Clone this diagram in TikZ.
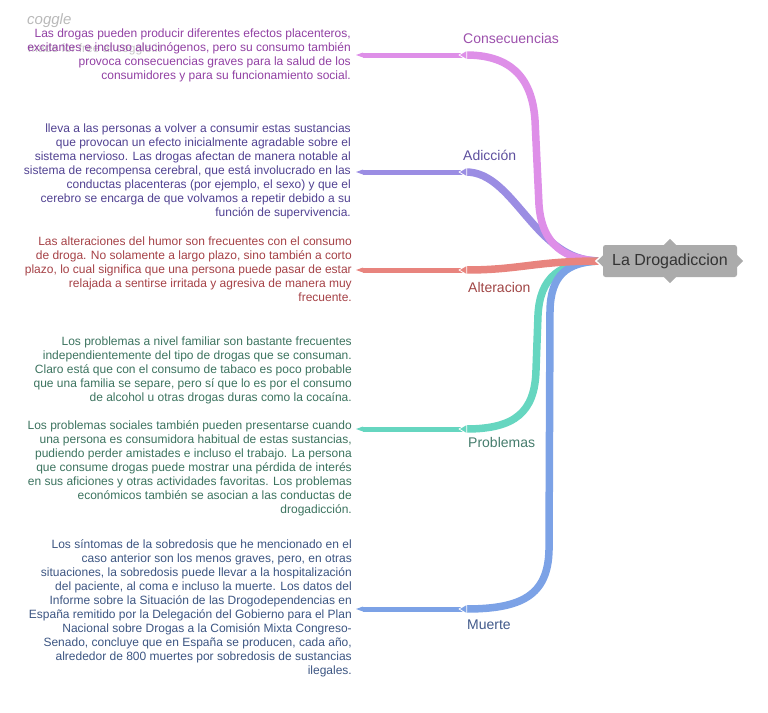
\documentclass[tikz,border=0pt]{standalone}
\usepackage{fontspec}
\setmainfont{Liberation Sans}
\definecolor{c1l}{HTML}{DE8FE8}\definecolor{c1t}{HTML}{9140A3}\definecolor{c1b}{HTML}{9C50AC}
\definecolor{c2l}{HTML}{9B8DE3}\definecolor{c2t}{HTML}{504191}\definecolor{c2b}{HTML}{5D4F9E}
\definecolor{c3l}{HTML}{E8847E}\definecolor{c3t}{HTML}{A54146}\definecolor{c3b}{HTML}{A04545}
\definecolor{c4l}{HTML}{66D6C0}\definecolor{c4t}{HTML}{3C735F}\definecolor{c4b}{HTML}{457C6C}
\definecolor{c5l}{HTML}{7CA2E6}\definecolor{c5t}{HTML}{3C5582}\definecolor{c5b}{HTML}{41598A}
\definecolor{hubgray}{HTML}{ABABAB}
\begin{document}
\begin{tikzpicture}[x=1pt,y=-1pt,
  body/.style={font=\fontsize{12}{14}\selectfont, align=right, anchor=east, inner sep=0pt},
  lbl/.style={font=\fontsize{14}{16}\selectfont, anchor=west, inner sep=0pt},
  bough/.style={line width=7.5pt, line cap=butt},
  twig/.style={line width=5pt, line cap=butt}]
\useasboundingbox (0,0) rectangle (768,712);

% watermark
\node[anchor=west, inner sep=0pt, text=gray!55, font=\fontsize{15}{16}\selectfont\itshape] (wm1) at (27,21) {coggle};
\node[anchor=west, inner sep=0pt, text=gray!45, font=\fontsize{12}{14}\selectfont] (wm2) at (28,49) {made for free at coggle.it};

% coordinates
\coordinate (hub) at (600,261);
\coordinate (e1) at (466,55);  \coordinate (t1) at (356,55);
\coordinate (e2) at (466,172); \coordinate (t2) at (356,172);
\coordinate (e3) at (466,270); \coordinate (t3) at (356,270);
\coordinate (e4) at (466,429); \coordinate (t4) at (356,429);
\coordinate (e5) at (466,609); \coordinate (t5) at (356,609);

% curves
\draw[bough, c2l] (e2) .. controls (515,172) and (535,262) .. (hub);
\draw[bough, c1l] (e1) .. controls (508,55) and (532,75) .. (535,120) -- (539,205) .. controls (542,245) and (565,260) .. (hub);
\draw[bough, c4l] (e4) .. controls (515,429) and (535,412) .. (536,370) -- (538,315) .. controls (540,277) and (560,262) .. (hub);
\draw[bough, c5l] (e5) .. controls (522,609) and (548,595) .. (549,550) -- (550,310) .. controls (551,276) and (566,262) .. (hub);
\draw[bough, c3l] (e3) .. controls (520,270) and (535,261) .. (hub);

% twigs with tips
\foreach \i in {1,...,5}{
  \draw[twig, c\i l] ([xshift=6.5pt]t\i) -- ([xshift=-3pt]e\i);
  \fill[c\i l] (t\i) -- ++(7,-2.5) -- ++(0,5) -- cycle;
  \fill[white] (e\i) ++(1.2,-5.6) -- ++(-8.8,5.6) -- ++(8.8,5.6) -- cycle;
  \fill[c\i l] (e\i) ++(0.4,-3.75) -- ++(-6.4,3.75) -- ++(6.4,3.75) -- cycle;
}

% central node
\fill[white] (604.5,252.3) -- (594.8,261) -- (604.5,269.7) -- cycle;
\fill[hubgray, rounded corners=2.5pt] (603,245) rectangle (737,277);
\fill[hubgray] (604,254.5) -- (597.2,261) -- (604,267.5) -- cycle;
\fill[hubgray] (663.5,245.5) -- (670,238.8) -- (676.5,245.5) -- cycle;
\fill[hubgray] (663.5,276.5) -- (670,283.2) -- (676.5,276.5) -- cycle;
\fill[hubgray] (736.5,254.5) -- (743.2,261) -- (736.5,267.5) -- cycle;
\node[inner sep=0pt, text=black!80, font=\fontsize{16}{18}\selectfont] (center) at (670,261) {La Drogadiccion};

% labels
\node[lbl, text=c1b] (lab1) at (463,38) {Consecuencias};
\node[lbl, text=c2b] (lab2) at (463,155) {Adicción};
\node[lbl, text=c3b] (lab3) at (468,287) {Alteracion};
\node[lbl, text=c4b] (lab4) at (468,442) {Problemas};
\node[lbl, text=c5b] (lab5) at (467,625) {Muerte};

% texts
\node[body, text=c1t] (txt1) at (351,55) {Las drogas pueden producir diferentes efectos placenteros,\\ excitantes e incluso alucinógenos, pero su consumo también\\ provoca consecuencias graves para la salud de los\\ consumidores y para su funcionamiento social.};
\node[body, text=c2t] (txt2) at (351,171) {lleva a las personas a volver a consumir estas sustancias\\ que provocan un efecto inicialmente agradable sobre el\\ sistema nervioso. Las drogas afectan de manera notable al\\ sistema de recompensa cerebral, que está involucrado en las\\ conductas placenteras (por ejemplo, el sexo) y que el\\ cerebro se encarga de que volvamos a repetir debido a su\\ función de supervivencia.};
\node[body, text=c3t] (txt3) at (352,269) {Las alteraciones del humor son frecuentes con el consumo\\ de droga. No solamente a largo plazo, sino también a corto\\ plazo, lo cual significa que una persona puede pasar de estar\\ relajada a sentirse irritada y agresiva de manera muy\\ frecuente.};
\node[body, text=c4t] (txt4) at (352,426) {Los problemas a nivel familiar son bastante frecuentes\\ independientemente del tipo de drogas que se consuman.\\ Claro está que con el consumo de tabaco es poco probable\\ que una familia se separe, pero sí que lo es por el consumo\\ de alcohol u otras drogas duras como la cocaína.\\[14pt] Los problemas sociales también pueden presentarse cuando\\ una persona es consumidora habitual de estas sustancias,\\ pudiendo perder amistades e incluso el trabajo. La persona\\ que consume drogas puede mostrar una pérdida de interés\\ en sus aficiones y otras actividades favoritas. Los problemas\\ económicos también se asocian a las conductas de\\ drogadicción.};
\node[body, text=c5t] (txt5) at (352,608.5) {Los síntomas de la sobredosis que he mencionado en el\\ caso anterior son los menos graves, pero, en otras\\ situaciones, la sobredosis puede llevar a la hospitalización\\ del paciente, al coma e incluso la muerte. Los datos del\\ Informe sobre la Situación de las Drogodependencias en\\ España remitido por la Delegación del Gobierno para el Plan\\ Nacional sobre Drogas a la Comisión Mixta Congreso-\\ Senado, concluye que en España se producen, cada año,\\ alrededor de 800 muertes por sobredosis de sustancias\\ ilegales.};
\end{tikzpicture}
\end{document}
